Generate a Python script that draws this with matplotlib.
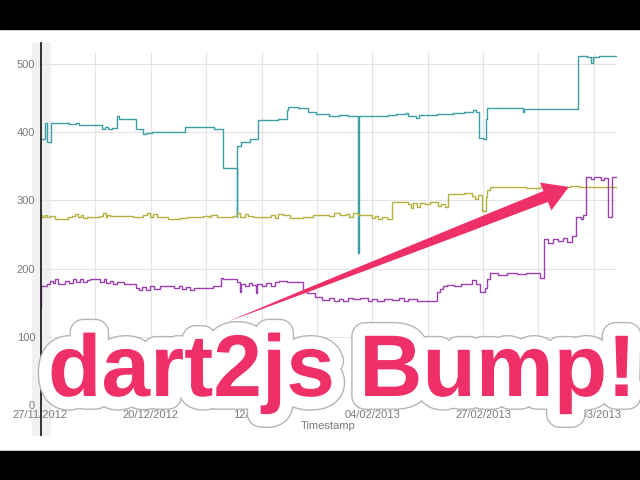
import matplotlib
matplotlib.use("Agg")
import matplotlib.pyplot as plt
import matplotlib.dates as mdates
import numpy as np
from matplotlib import patheffects as pe
from matplotlib.patches import Rectangle
from matplotlib.lines import Line2D

# ---- data: (days since 27/11/2012, value) ----
START = "2012-11-27"
teal = [(0, 390), (1.0, 413), (1.5, 386), (2.3, 414), (4.0, 413), (6.0, 412), (7.5, 413),
        (8.0, 411), (11.0, 410), (12.8, 405), (13.5, 407), (14.2, 404), (15.0, 406),
        (15.9, 423), (16.3, 419), (19.9, 405), (21.4, 397), (22.1, 399), (23.2, 400),
        (30.2, 408), (36.1, 404), (37.9, 348), (40.8, 276), (40.9, 380), (41.7, 385),
        (43.7, 390), (45.3, 418), (49.5, 419), (51.2, 432), (51.5, 437), (53.5, 436),
        (55.7, 430), (57.4, 427), (60.0, 424), (62.0, 425), (64.0, 423), (66.0, 223),
        (66.2, 423), (72.3, 425), (74.0, 426), (76.0, 428), (76.5, 423), (78.0, 421),
        (78.6, 425), (82.4, 426), (83.7, 427), (85.7, 428), (88.0, 429), (89.9, 433),
        (90.6, 429), (91.2, 392), (92.0, 390), (92.5, 420), (92.9, 436), (100.3, 430),
        (100.5, 434), (111.8, 512), (113.5, 510), (114.5, 502), (114.8, 510),
        (116.0, 512), (119.8, 512)]
olive = [(0, 278), (0.5, 275), (1.0, 279), (1.5, 276), (2.1, 277), (3.1, 272), (5.9, 275),
         (6.6, 277), (7.2, 280), (7.8, 275), (8.5, 278), (9.0, 274), (9.7, 276), (12.5, 277),
         (13.1, 281), (13.6, 276), (14.0, 279), (14.5, 277), (19.4, 275), (21.4, 278),
         (22.2, 282), (22.8, 276), (23.5, 280), (24.2, 276), (26.6, 272), (29.1, 274),
         (30.5, 276), (33.9, 277), (35.0, 275), (35.5, 279), (36.7, 275), (38.1, 276),
         (40.1, 277), (41.0, 281), (41.6, 276), (42.5, 280), (43.2, 277), (44.3, 276),
         (47.1, 276), (48.0, 279), (48.8, 274), (49.5, 280), (50.5, 278), (51.9, 274),
         (54.7, 276), (56.7, 279), (58.0, 278), (60.0, 277), (61.0, 281), (62.3, 278),
         (63.5, 280), (64.2, 276), (65.0, 281), (66.0, 278), (68.9, 274), (69.5, 277),
         (70.2, 272), (71.0, 276), (72.0, 273), (73.1, 297), (76.4, 294), (77.0, 289),
         (77.5, 296), (78.2, 291), (78.9, 296), (80.0, 294), (81.0, 297), (82.6, 292),
         (83.3, 295), (84.0, 290), (84.7, 310), (86.5, 309), (88.0, 311), (89.7, 307),
         (90.3, 302), (90.9, 308), (91.8, 285), (92.5, 305), (92.8, 315), (93.4, 319),
         (101.0, 318), (103.8, 320), (110.0, 321), (112.0, 319), (115.0, 320), (119.8, 320)]
purple = [(0, 143), (0.3, 174), (1.5, 178), (2.1, 182), (2.6, 179), (3.1, 184), (3.7, 178),
          (5.2, 182), (6.0, 179), (6.8, 184), (7.5, 180), (8.3, 185), (9.0, 181), (9.7, 183),
          (10.4, 184), (12.5, 181), (13.2, 184), (13.8, 179), (14.5, 182), (15.2, 178),
          (15.9, 180), (17.5, 177), (19.9, 172), (20.6, 168), (21.2, 173), (22.0, 169),
          (22.8, 174), (23.6, 170), (24.9, 174), (26.2, 175), (27.9, 172), (28.8, 175),
          (29.5, 170), (30.3, 173), (31.2, 169), (32.0, 171), (35.9, 175), (37.6, 186),
          (38.0, 184), (40.9, 181), (41.5, 165), (41.7, 178), (42.5, 174), (43.3, 179),
          (44.0, 176), (44.8, 164), (45.0, 177), (46.0, 174), (47.0, 179), (48.0, 175),
          (48.8, 180), (49.6, 182), (51.2, 180), (54.7, 167), (55.5, 164), (57.0, 158),
          (58.5, 154), (60.0, 157), (61.0, 152), (62.0, 156), (63.0, 153), (64.0, 157),
          (65.0, 155), (66.5, 157), (68.0, 153), (69.0, 156), (70.0, 152), (71.5, 155),
          (73.0, 154), (74.5, 157), (75.5, 152), (76.5, 155), (78.3, 152), (82.5, 165),
          (83.0, 170), (83.6, 174), (84.5, 176), (86.0, 174), (87.5, 177), (89.7, 183),
          (90.5, 178), (91.3, 165), (92.4, 172), (92.8, 185), (93.4, 193), (95.0, 191),
          (97.0, 194), (99.0, 192), (101.0, 194), (103.8, 186), (104.6, 243), (105.5, 238),
          (106.5, 244), (107.5, 240), (108.5, 245), (109.5, 239), (110.4, 248), (111.3, 276),
          (112.3, 272), (112.8, 278), (113.3, 334), (114.3, 331), (115.0, 334), (116.5, 330),
          (117.0, 333), (117.9, 276), (118.7, 334), (119.8, 334)]
series_colors = ["#3c9fa6", "#b5b13e", "#9c40b0"]
y_ticks = [0, 100, 200, 300, 400, 500]
x_tick_days = [0, 23, 46, 69, 92, 115]
title_text = "dart2js Bump!"
x_label = "Timestamp"
arrow_tail = (38.8, 121.7)
arrow_tip = (109.8, 319.6)

base = mdates.date2num(np.datetime64(START))

fig = plt.figure(figsize=(6.4, 4.8), dpi=100)
fig.patch.set_facecolor("white")
ax = fig.add_axes([40 / 640, 75 / 480, 577 / 640, 353 / 480])
ax.set_facecolor("none")

for data, col in zip([teal, olive, purple], series_colors):
    d = np.array([p[0] for p in data]) + base
    v = np.array([p[1] for p in data])
    ax.plot(d, v, drawstyle="steps-post", color=col, lw=1.0, zorder=3)

ax.set_xlim(base, base + 119.8)
ax.set_ylim(0, 517.5)
ax.set_yticks(y_ticks)
ax.xaxis.set_major_locator(matplotlib.ticker.FixedLocator([base + t for t in x_tick_days]))
ax.xaxis.set_minor_locator(matplotlib.ticker.FixedLocator([base + t + 11.5 for t in x_tick_days]))
ax.xaxis.set_major_formatter(mdates.DateFormatter("%d/%m/%Y"))
ax.grid(True, which="both", color="#e4e4e4", lw=0.8, zorder=0)
ax.tick_params(which="both", length=0, labelsize=8, labelcolor="#7a7a7a", pad=3.5)
for lab in ax.get_xticklabels() + ax.get_yticklabels():
    lab.set_family("Liberation Sans")
for s in ax.spines.values():
    s.set_visible(False)
ax.set_xlabel(x_label, fontsize=8, color="#7a7a7a", family="Liberation Sans", labelpad=1)

# left axis strip
fig.add_artist(Rectangle((32 / 640, 45 / 480), 18 / 640, 392 / 480, transform=fig.transFigure,
                         color="#f1f1f1", zorder=-1))
fig.add_artist(Line2D([40.5 / 640, 40.5 / 640], [45 / 480, 437 / 480], transform=fig.transFigure,
                      color="#222222", lw=1.3, zorder=5))

# arrow
pink = "#ee2f68"
hb = (arrow_tip[0] - 4.8, arrow_tip[1] - 13.9)
ax.annotate("", xy=(base + arrow_tail[0], arrow_tail[1]), xytext=(base + hb[0], hb[1]),
            arrowprops=dict(arrowstyle="wedge,tail_width=0.42,shrink_factor=0.6",
                            mutation_scale=20, color=pink, shrinkA=0, shrinkB=0, lw=0),
            annotation_clip=False, zorder=10)
ax.annotate("", xy=(base + arrow_tip[0], arrow_tip[1]), xytext=(base + hb[0] - 1.5, hb[1] - 4.3),
            arrowprops=dict(arrowstyle="simple,head_length=1.0,head_width=1.2,tail_width=0.45",
                            mutation_scale=18, color=pink, shrinkA=0, shrinkB=0, lw=0),
            annotation_clip=False, zorder=10)

# big overlay text
fig.text(48 / 640, (480 - 396) / 480, title_text, fontsize=63, fontweight="bold",
         family="Liberation Sans", color=pink, ha="left", va="baseline", zorder=20,
         path_effects=[pe.Stroke(linewidth=20, foreground="#b5b5b5", joinstyle="round"),
                       pe.Stroke(linewidth=18, foreground="white", joinstyle="round"),
                       pe.Normal()])

# black letterbox bands
fig.add_artist(Rectangle((0, 451 / 480), 1, 29 / 480, transform=fig.transFigure, color="black", zorder=30))
fig.add_artist(Rectangle((0, 0), 1, 29 / 480, transform=fig.transFigure, color="black", zorder=30))

fig.savefig("out.png", dpi=100)
